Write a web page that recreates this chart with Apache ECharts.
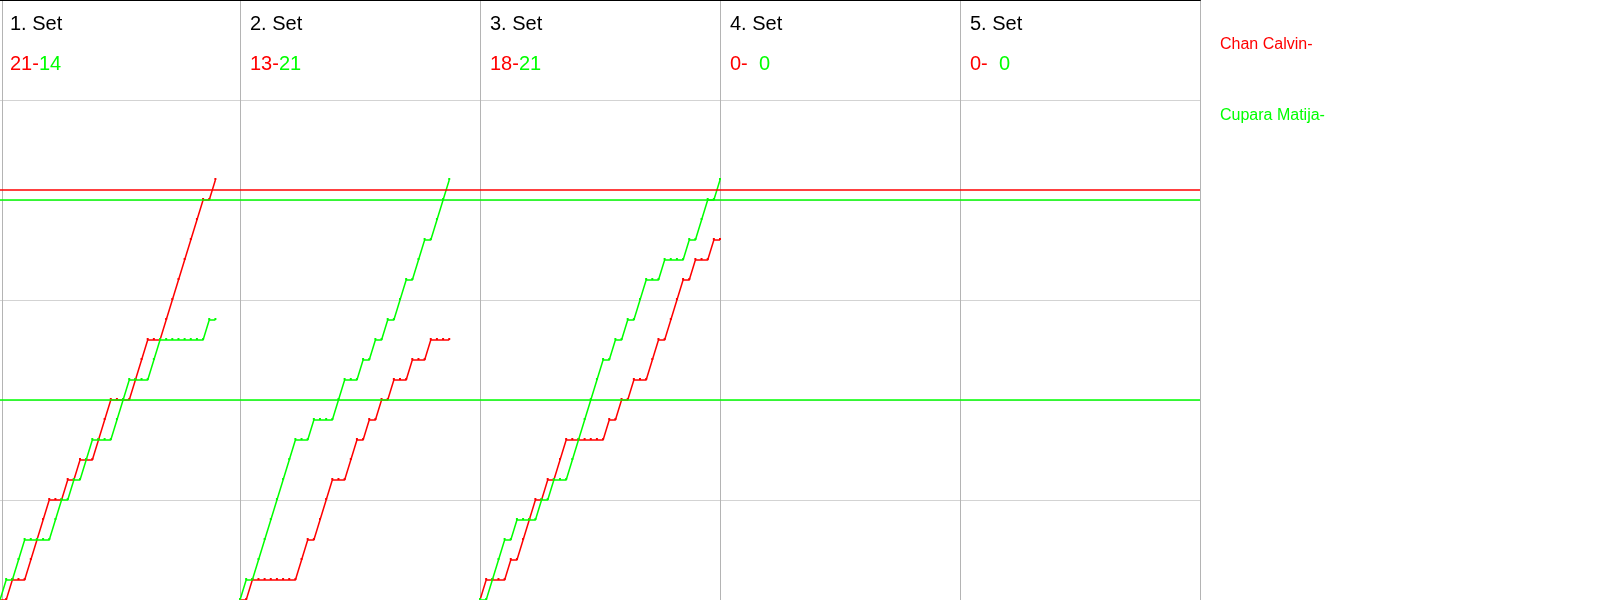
<!DOCTYPE html>
<html><head><meta charset="utf-8">
<script src="https://cdn.jsdelivr.net/npm/echarts@6/dist/echarts.min.js"></script>
<style>html,body{margin:0;padding:0;background:#fff}#c{width:1600px;height:600px}</style>
</head><body><div id="c"></div>
<script>
// ---- data ----
const setTitles = ['1. Set', '2. Set', '3. Set', '4. Set', '5. Set'];
const redLabels = ['21-', '13-', '18-', '0-', '0-'];
const greenLabels = ['14', '21', '21', '  0', '  0'];
const playerRed = 'Chan Calvin-';
const playerGreen = 'Cupara Matija-';

// score after each rally (index = rally number, 0 = start)
const set1Red   = [0,0,1,1,1,2,3,4,5,5,5,6,6,7,7,7,8,9,10,10,10,10,11,12,13,13,13,14,15,16,17,18,19,20,20,21];
const set1Green = [0,1,1,2,3,3,3,3,3,4,5,5,6,6,7,8,8,8,8,9,10,11,11,11,11,12,13,13,13,13,13,13,13,13,14,14];
const set2Red   = [0,0,1,1,1,1,1,1,1,1,2,3,3,4,5,6,6,6,7,8,8,9,9,10,10,11,11,11,12,12,12,13,13,13,13];
const set2Green = [0,1,1,2,3,4,5,6,7,8,8,8,9,9,9,9,10,11,11,11,12,12,13,13,14,14,15,16,16,17,18,18,19,20,21];
const set3Red   = [0,1,1,1,1,2,2,3,4,5,5,6,6,7,8,8,8,8,8,8,8,9,9,10,10,11,11,11,12,13,13,14,15,16,16,17,17,17,18,18];
const set3Green = [0,0,1,2,3,3,4,4,4,4,5,5,6,6,6,7,8,9,10,11,12,12,13,13,14,14,15,16,16,16,17,17,17,17,18,18,19,20,20,21];
const redSets = [set1Red, set2Red, set3Red, [], []];
const greenSets = [set1Green, set2Green, set3Green, [], []];

const maxRallies = 39;
const maxScore = 30;
const scoreStep = 5;
const redRefLines = [20.5];
const greenRefLines = [20, 10];

// ---- chart ----
const RED = '#ff0000', GREEN = '#00ff00';
const FONT = '"Liberation Sans", Arial, sans-serif';
const PANEL = 240;
const chart = echarts.init(document.getElementById('c'), null, {renderer: 'canvas'});

const grids = [], xAxes = [], yAxes = [], series = [], titles = [];
const toPairs = arr => arr.map((v, i) => [i, v]);

for (let k = 0; k < 5; k++) {
  grids.push({left: PANEL * k, top: 0, width: PANEL, height: 600, containLabel: false});
  xAxes.push({
    gridIndex: k, type: 'value', min: 0, max: maxRallies, position: 'bottom',
    axisLine: {show: true, lineStyle: {color: '#b4b4b4', width: 1}},
    axisTick: {show: false}, axisLabel: {show: false}, splitLine: {show: false}
  });
  xAxes.push({
    gridIndex: k, type: 'value', min: 0, max: maxRallies, position: 'top',
    axisLine: {show: true, onZero: false, lineStyle: {color: '#000', width: 2}},
    axisTick: {show: false}, axisLabel: {show: false}, splitLine: {show: false}
  });
  yAxes.push({
    gridIndex: k, type: 'value', min: 0, max: maxScore, interval: scoreStep,
    offset: k === 0 ? -2 : 0,
    axisLine: {show: true, onZero: false, lineStyle: {color: '#b4b4b4', width: 1}},
    axisTick: {show: false}, axisLabel: {show: false},
    splitLine: {show: true, lineStyle: {color: '#d3d3d3', width: 1}}
  });
  if (k === 4) {
    yAxes.push({
      gridIndex: k, type: 'value', min: 0, max: maxScore, position: 'right',
      axisLine: {show: true, onZero: false, lineStyle: {color: '#b4b4b4', width: 1}},
      axisTick: {show: false}, axisLabel: {show: false}, splitLine: {show: false}
    });
  }
  const yIdx = yAxes.length - (k === 4 ? 2 : 1);
  series.push({
    type: 'line', name: playerRed, xAxisIndex: 2 * k, yAxisIndex: yIdx,
    data: toPairs(redSets[k]), symbol: 'rect', symbolSize: [2, 2], symbolOffset: [0, -1],
    itemStyle: {color: RED}, lineStyle: {color: RED, width: 1.5}, z: 3,
    markLine: {silent: true, symbol: 'none', label: {show: false},
      lineStyle: {color: RED, width: 1.5, type: 'solid'},
      data: redRefLines.map(v => ({yAxis: v}))}
  });
  series.push({
    type: 'line', name: playerGreen, xAxisIndex: 2 * k, yAxisIndex: yIdx,
    data: toPairs(greenSets[k]), symbol: 'rect', symbolSize: [2, 2], symbolOffset: [0, -1],
    itemStyle: {color: GREEN}, lineStyle: {color: GREEN, width: 1.5}, z: 3,
    markLine: {silent: true, symbol: 'none', label: {show: false},
      lineStyle: {color: GREEN, width: 1.5, type: 'solid'},
      data: greenRefLines.map(v => ({yAxis: v}))}
  });
  titles.push({
    text: setTitles[k], left: PANEL * k + 10, top: 14, padding: 0,
    textStyle: {fontSize: 20, fontWeight: 'normal', color: '#000', fontFamily: FONT}
  });
  titles.push({
    text: '{r|' + redLabels[k] + '}{g|' + greenLabels[k] + '}', left: PANEL * k + 10, top: 54, padding: 0,
    textStyle: {fontSize: 20, fontWeight: 'normal', fontFamily: FONT,
      rich: {
        r: {color: RED, fontSize: 20, fontFamily: FONT},
        g: {color: GREEN, fontSize: 20, fontFamily: FONT}
      }}
  });
}
titles.push({text: playerRed, left: 1220, top: 37, padding: 0,
  textStyle: {fontSize: 16, fontWeight: 'normal', color: RED, fontFamily: FONT}});
titles.push({text: playerGreen, left: 1220, top: 108, padding: 0,
  textStyle: {fontSize: 16, fontWeight: 'normal', color: GREEN, fontFamily: FONT}});

chart.setOption({
  animation: false,
  backgroundColor: '#fff',
  title: titles,
  grid: grids,
  xAxis: xAxes,
  yAxis: yAxes,
  series: series
});
</script>
</body></html>
